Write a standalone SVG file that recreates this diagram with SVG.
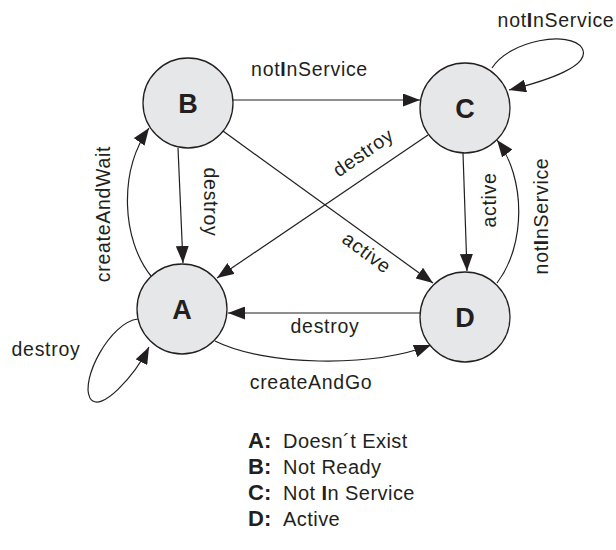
<svg xmlns="http://www.w3.org/2000/svg" width="616" height="550" viewBox="0 0 616 550">
  <style>
    .node circle { fill: #e6e7e8; stroke: #231f20; stroke-width: 1.3; }
    .node text { font-family: "Liberation Sans", Arial, sans-serif; font-weight: bold; font-size: 27px; fill: #231f20; text-anchor: middle; }
    .edge { fill: none; stroke: #231f20; stroke-width: 1.2; marker-end: url(#arrow); }
    .lbl { font-family: "Liberation Sans", Arial, sans-serif; font-size: 19.5px; letter-spacing: 0.7px; fill: #231f20; text-anchor: middle; }
    .lbl .b, .legend .b { font-weight: bold; }
    .legend text { font-family: "Liberation Sans", Arial, sans-serif; font-size: 20px; letter-spacing: 0.45px; fill: #231f20; }
    .legend .key { font-weight: bold; font-size: 22px; letter-spacing: 0; }
  </style>
  <defs>
    <marker id="arrow" markerUnits="userSpaceOnUse" viewBox="0 0 17 13" refX="17" refY="6.5" markerWidth="17" markerHeight="13" orient="auto">
      <path d="M0,0 L17,6.5 L0,13 z" fill="#231f20"/>
    </marker>
  </defs>

  <!-- transitions -->
  <g id="connectors">
    <path class="edge" d="M233,100 L420,100"/>
    <path class="edge" d="M178,148 L183,263"/>
    <path class="edge" d="M151,276 C122,240 118,172 149,128"/>
    <path class="edge" d="M223,131 L433,283"/>
    <path class="edge" d="M428,135 L217,278"/>
    <path class="edge" d="M463,153 L467,271"/>
    <path class="edge" d="M497,283 C526,245 526,178 497,140"/>
    <path class="edge" d="M420,313 L228,313"/>
    <path class="edge" d="M215,341 C265,366 370,368 431,345"/>
    <path class="edge" d="M138,319 C110,322 80,380 90,398 C100,415 135,375 149,347"/>
    <path class="edge" d="M492,68 C510,40 570,30 582,48 C592,65 550,80 509,90"/>

    <text class="lbl" x="309.5" y="76">not<tspan class="b">I</tspan>nService</text>
    <text class="lbl" transform="translate(204,202) rotate(90)">destroy</text>
    <text class="lbl" transform="translate(110,214) rotate(-90)">createAndWait</text>
    <text class="lbl" transform="translate(367,158) rotate(-35)">destroy</text>
    <text class="lbl" transform="translate(363,258) rotate(36.6)">active</text>
    <text class="lbl" transform="translate(496,200) rotate(-90)">active</text>
    <text class="lbl" transform="translate(548,216) rotate(-90)">not<tspan class="b">I</tspan>nService</text>
    <text class="lbl" x="325" y="333">destroy</text>
    <text class="lbl" x="311" y="389">createAndGo</text>
    <text class="lbl" x="46" y="356">destroy</text>
    <text class="lbl" x="556" y="27">not<tspan class="b">I</tspan>nService</text>
  </g>

  <!-- states -->
  <g id="node-B" class="node">
    <circle cx="188" cy="103" r="45"/>
    <text x="188" y="113">B</text>
  </g>
  <g id="node-C" class="node">
    <circle cx="465" cy="108" r="45"/>
    <text x="465" y="118">C</text>
  </g>
  <g id="node-A" class="node">
    <circle cx="182" cy="309" r="45"/>
    <text x="182" y="319">A</text>
  </g>
  <g id="node-D" class="node">
    <circle cx="465" cy="317" r="45"/>
    <text x="465" y="327">D</text>
  </g>

  <!-- legend -->
  <g id="legend" class="legend">
    <text class="key" x="248" y="448">A:</text>
    <text x="283" y="448">Doesn´t Exist</text>
    <text class="key" x="248" y="474">B:</text>
    <text x="283" y="474">Not Ready</text>
    <text class="key" x="248" y="500">C:</text>
    <text x="283" y="500">Not <tspan class="b">I</tspan>n Service</text>
    <text class="key" x="248" y="526">D:</text>
    <text x="283" y="526">Active</text>
  </g>
</svg>
